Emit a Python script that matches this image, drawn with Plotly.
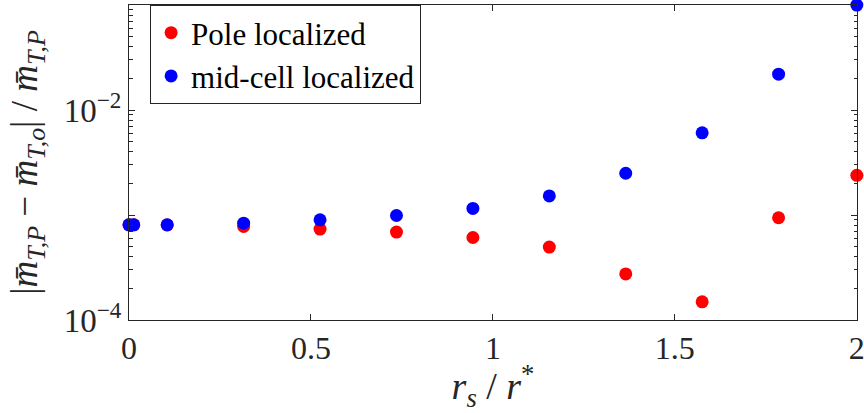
import plotly.graph_objects as go

# Data
rs_ratio = [0.0, 0.013, 0.105, 0.315, 0.525, 0.735, 0.945, 1.155, 1.365, 1.575, 1.785, 2.0]
pole_err = [8.07e-4, 8.07e-4, 8.05e-4, 7.78e-4, 7.35e-4, 6.88e-4, 6.11e-4, 4.95e-4, 2.75e-4, 1.49e-4, 9.42e-4, 2.39e-3]
mid_err = [8.07e-4, 8.07e-4, 8.07e-4, 8.37e-4, 9.0e-4, 9.9e-4, 1.156e-3, 1.52e-3, 2.5e-3, 6.07e-3, 2.2e-2, 1.0e-1]

x_tickvals = [0, 0.5, 1, 1.5, 2]
x_ticktext = ["0", "0.5", "1", "1.5", "2"]
y_tickvals = [1e-4, 1e-3, 1e-2, 1e-1]
y_ticktext = ["10<sup>\u22124</sup>", "", "10<sup>\u22122</sup>", ""]
y_minor = [m * 10.0 ** e for e in (-4, -3, -2) for m in range(2, 10)]

FONT = "Liberation Serif"
AXC = "#262626"

fig = go.Figure()
fig.add_trace(go.Scatter(
    x=rs_ratio, y=pole_err, mode="markers", name="Pole localized",
    marker=dict(color="#ff0000", size=13, line=dict(width=0)), cliponaxis=False))
fig.add_trace(go.Scatter(
    x=rs_ratio, y=mid_err, mode="markers", name="mid-cell localized",
    marker=dict(color="#0000ff", size=13, line=dict(width=0)), cliponaxis=False))

fig.update_layout(
    width=864, height=413,
    margin=dict(l=129, r=7, t=5, b=93),
    paper_bgcolor="white", plot_bgcolor="white",
    font=dict(family=FONT, size=30, color="#262626"),
    showlegend=True,
    legend=dict(
        x=0.029, y=1.0, xanchor="left", yanchor="top",
        bgcolor="white", bordercolor="#262626", borderwidth=1,
        font=dict(family=FONT, size=31, color="black"),
        itemwidth=30, tracegroupgap=0,
    ),
    xaxis=dict(
        range=[0, 2.0005], tickmode="array", tickvals=x_tickvals, ticktext=x_ticktext,
        ticks="inside", ticklen=6, tickwidth=1, tickcolor=AXC,
        showline=True, linecolor=AXC, linewidth=1, mirror="ticks",
        showgrid=False, zeroline=False, ticklabeloverflow="allow", automargin=False,
        tickfont=dict(family=FONT, size=32, color=AXC),
        title=dict(text="<i>r</i><sub><i>s</i></sub> / <i>r</i><sup>*</sup>",
                   font=dict(family=FONT, size=38, color=AXC), standoff=18),
    ),
    yaxis=dict(
        type="log", range=[-4, -0.999], tickmode="array", tickvals=y_tickvals, ticktext=y_ticktext,
        ticks="inside", ticklen=6, tickwidth=1, tickcolor=AXC,
        minor=dict(tickmode="array", tickvals=y_minor, ticks="inside", ticklen=3.5,
                   tickwidth=1, tickcolor=AXC, showgrid=False),
        showline=True, linecolor=AXC, linewidth=1, mirror="ticks",
        showgrid=False, zeroline=False, ticklabeloverflow="allow", automargin=False,
        tickfont=dict(family=FONT, size=33, color=AXC),
        title=dict(text="|<i>m\u0304</i><sub><i>T,P</i></sub> \u2212 <i>m\u0304</i><sub><i>T,o</i></sub>| / <i>m\u0304</i><sub><i>T,P</i></sub>",
                   font=dict(family=FONT, size=37, color=AXC), standoff=14),
    ),
)

fig.write_html("out.html")
